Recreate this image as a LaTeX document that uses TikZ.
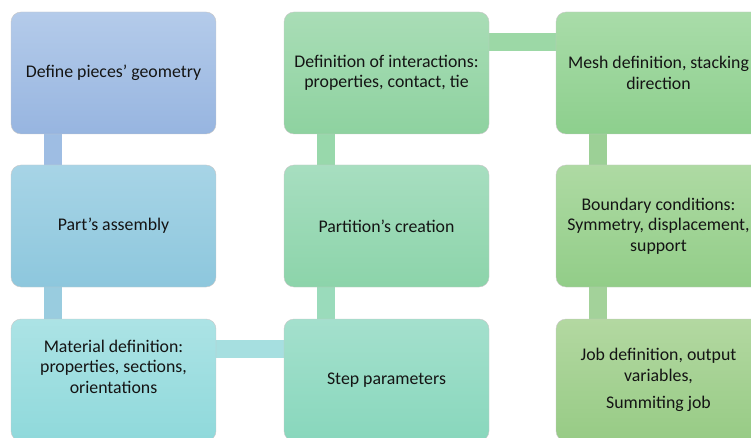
\documentclass[tikz,border=0pt]{standalone}
\usepackage{fontspec}
\setmainfont{Carlito}
\usetikzlibrary{backgrounds}

\definecolor{geomT}{HTML}{B4CBEA}\definecolor{geomB}{HTML}{97B5E0}
\definecolor{assemT}{HTML}{A7D4E6}\definecolor{assemB}{HTML}{8DC7DD}
\definecolor{matT}{HTML}{ACE3E5}\definecolor{matB}{HTML}{8FD9DB}
\definecolor{interT}{HTML}{A9DDB6}\definecolor{interB}{HTML}{8ED2A0}
\definecolor{partT}{HTML}{A7DEC0}\definecolor{partB}{HTML}{8CD4AA}
\definecolor{stepT}{HTML}{A4E0CD}\definecolor{stepB}{HTML}{88D7BC}
\definecolor{meshT}{HTML}{A9DCA9}\definecolor{meshB}{HTML}{8DCF8D}
\definecolor{bcT}{HTML}{AEDAA3}\definecolor{bcB}{HTML}{92CD88}
\definecolor{jobT}{HTML}{B3D8A1}\definecolor{jobB}{HTML}{97CB85}

\tikzset{
	stage/.style={rounded corners=10pt, draw=black!22, line width=0.4pt,
		minimum width=205pt, minimum height=122pt, inner sep=2pt,
		align=center, text=black!92, font=\fontsize{17.8}{20.5}\selectfont},
	link/.style={line width=18pt},
}

\begin{document}
\begin{tikzpicture}[x=1pt,y=-1pt]
	\pgfmathsetmacro\CA{113.5}
	\pgfmathsetmacro\CB{386.5}
	\pgfmathsetmacro\CC{658.5}
	\pgfmathsetmacro\RA{73}
	\pgfmathsetmacro\RB{226}
	\pgfmathsetmacro\RC{380}
	\useasboundingbox (0,0) rectangle (751,438);
	\clip (0,0) rectangle (751,438);
	
	\node[stage, top color=geomT, bottom color=geomB] (geom) at (\CA,\RA) {Define pieces' geometry};
	\node[stage, top color=assemT, bottom color=assemB] (assem) at (\CA,\RB) {Part's assembly};
	\node[stage, top color=matT, bottom color=matB] (mat) at (\CA,\RC) {Material definition:\\ properties, sections,\\ orientations\\ \strut};
	\node[stage, top color=stepT, bottom color=stepB] (step) at (\CB,\RC) {Step parameters};
	\node[stage, top color=partT, bottom color=partB] (part) at (\CB,\RB) {Partition's creation};
	\node[stage, top color=interT, bottom color=interB] (inter) at (\CB,\RA) {Definition of interactions:\\ properties, contact, tie};
	\node[stage, top color=meshT, bottom color=meshB] (mesh) at (\CC,\RA) {Mesh definition, stacking\\ direction};
	\node[stage, top color=bcT, bottom color=bcB] (bc) at (\CC,\RB) {Boundary conditions:\\ Symmetry, displacement,\\ support};
	\node[stage, top color=jobT, bottom color=jobB] (job) at (\CC,\RC) {Job definition, output\\ variables,\\[7pt] Summiting job};
	
	\begin{pgfonlayer}{background}
		\draw[link, color={rgb,255:red,158;green,189;blue,227}] ([xshift=42pt]geom.south west) -- ([xshift=42pt]assem.north west);
		\draw[link, color={rgb,255:red,153;green,204;blue,223}] ([xshift=42pt]assem.south west) -- ([xshift=42pt]mat.north west);
		\draw[link, color={rgb,255:red,166;green,223;blue,224}] ([yshift=-30pt]mat.north east) -- ([yshift=-30pt]step.north west);
		\draw[link, color={rgb,255:red,154;green,219;blue,187}] ([xshift=42pt]step.north west) -- ([xshift=42pt]part.south west);
		\draw[link, color={rgb,255:red,152;green,216;blue,171}] ([xshift=42pt]part.north west) -- ([xshift=42pt]inter.south west);
		\draw[link, color={rgb,255:red,156;green,216;blue,166}] ([yshift=-30pt]inter.north east) -- ([yshift=-30pt]mesh.north west);
		\draw[link, color={rgb,255:red,156;green,208;blue,150}] ([xshift=42pt]mesh.south west) -- ([xshift=42pt]bc.north west);
		\draw[link, color={rgb,255:red,163;green,210;blue,154}] ([xshift=42pt]bc.south west) -- ([xshift=42pt]job.north west);
	\end{pgfonlayer}
\end{tikzpicture}
\end{document}
